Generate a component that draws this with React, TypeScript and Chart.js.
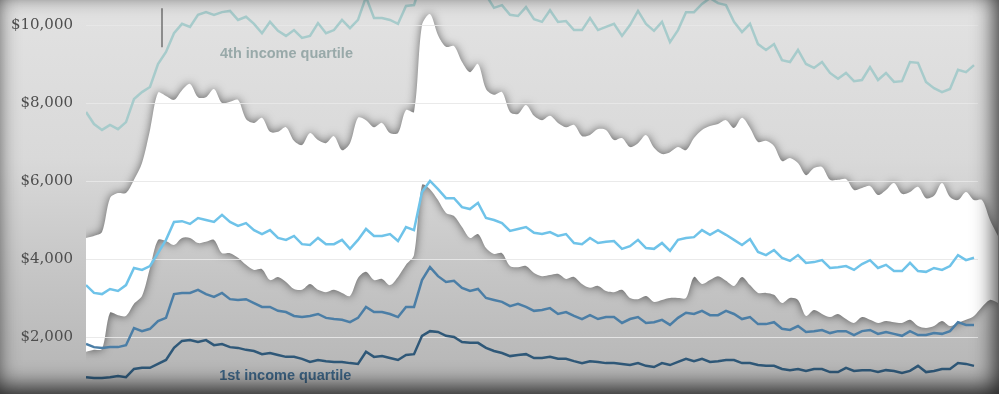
import React, { useEffect, useRef } from "react";
import { Chart, registerables } from "chart.js";

// Monthly observations (x = month index from the start of the series)
const firstQuartile = [
  970, 950, 950, 970, 1000, 970, 1180, 1210, 1210, 1310,
  1410, 1720, 1900, 1920, 1870, 1920, 1790, 1820, 1740, 1720,
  1670, 1640, 1560, 1590, 1540, 1490, 1490, 1440, 1360, 1410,
  1380, 1360, 1360, 1330, 1310, 1620, 1490, 1510, 1460, 1410,
  1540, 1560, 2030, 2150, 2130, 2030, 2000, 1870, 1850, 1850,
  1720, 1640, 1590, 1510, 1540, 1560, 1460, 1460, 1490, 1440,
  1440, 1380, 1330, 1380, 1360, 1330, 1330, 1310, 1280, 1330,
  1260, 1230, 1330, 1280, 1360, 1440, 1380, 1440, 1360, 1380,
  1410, 1410, 1330, 1330, 1280, 1260, 1260, 1180, 1150, 1180,
  1130, 1180, 1180, 1100, 1100, 1210, 1130, 1150, 1150, 1100,
  1150, 1130, 1080, 1130, 1260, 1100, 1130, 1180, 1180, 1330, 1310, 1260,
];

const secondQuartile = [
  1820, 1740, 1720, 1740, 1740, 1790, 2230, 2150, 2210, 2410,
  2490, 3100, 3130, 3130, 3210, 3100, 3030, 3130, 2970, 2950,
  2970, 2870, 2770, 2770, 2670, 2640, 2540, 2510, 2540, 2590,
  2490, 2460, 2440, 2380, 2490, 2770, 2640, 2640, 2590, 2510,
  2770, 2770, 3460, 3790, 3560, 3410, 3440, 3260, 3180, 3230,
  3000, 2950, 2900, 2790, 2850, 2770, 2670, 2690, 2740, 2590,
  2640, 2540, 2460, 2560, 2460, 2510, 2510, 2360, 2460, 2510,
  2360, 2380, 2440, 2310, 2490, 2620, 2590, 2670, 2560, 2560,
  2670, 2590, 2460, 2510, 2330, 2330, 2380, 2210, 2180, 2280,
  2130, 2150, 2180, 2100, 2150, 2150, 2050, 2150, 2180, 2080,
  2130, 2080, 2030, 2150, 2050, 2050, 2100, 2080, 2150, 2380, 2310, 2310,
];

const thirdQuartile = [
  3330, 3130, 3100, 3230, 3180, 3330, 3770, 3720, 3820, 4150,
  4490, 4950, 4970, 4900, 5050, 5000, 4950, 5130, 4950, 4850,
  4920, 4740, 4640, 4740, 4540, 4490, 4590, 4380, 4360, 4540,
  4380, 4380, 4490, 4260, 4490, 4770, 4590, 4590, 4640, 4460,
  4820, 4740, 5720, 6000, 5790, 5560, 5560, 5330, 5280, 5440,
  5050, 5000, 4920, 4720, 4770, 4820, 4670, 4640, 4690, 4590,
  4640, 4410, 4380, 4540, 4410, 4440, 4460, 4260, 4330, 4490,
  4280, 4260, 4410, 4210, 4490, 4540, 4560, 4740, 4620, 4740,
  4620, 4490, 4360, 4510, 4180, 4100, 4230, 4030, 3950, 4100,
  3900, 3920, 3970, 3770, 3790, 3820, 3720, 3870, 3970, 3770,
  3850, 3690, 3690, 3900, 3690, 3670, 3770, 3720, 3820, 4100, 3970, 4030,
];

const fourthQuartile = [
  7770, 7460, 7310, 7440, 7330, 7510, 8100, 8280, 8410, 9000,
  9310, 9790, 10030, 9950, 10260, 10330, 10260, 10330, 10360, 10130,
  10210, 10030, 9790, 10080, 9850, 9720, 9870, 9670, 9720, 10050,
  9790, 9870, 10130, 9920, 10130, 10720, 10180, 10180, 10130, 10030,
  10490, 10510, 11150, 11670, 11540, 11280, 11210, 11030, 11100, 10900,
  10770, 10440, 10510, 10260, 10230, 10460, 10150, 10080, 10380, 10080,
  10100, 9870, 9870, 10180, 9870, 9950, 10030, 9720, 10000, 10360,
  10030, 9850, 10080, 9560, 9870, 10330, 10330, 10540, 10690, 10560,
  10510, 10080, 9820, 10030, 9510, 9360, 9510, 9100, 9050, 9360,
  9000, 8900, 9050, 8770, 8620, 8770, 8560, 8590, 8920, 8590,
  8770, 8540, 8560, 9050, 9030, 8540, 8380, 8280, 8360, 8850, 8790, 8970,
];

// White band (upper and lower edge)
const bandUpper = [
  4540, 4590, 4690, 5560, 5690, 5690, 6030, 6460, 7310, 8260,
  8180, 8080, 8330, 8490, 8150, 8150, 8360, 8000, 8030, 8080,
  7590, 7490, 7620, 7260, 7260, 7380, 7030, 6920, 7230, 7050,
  6970, 7150, 6790, 6970, 7620, 7560, 7380, 7490, 7230, 7230,
  7820, 7770, 10000, 10280, 9740, 9440, 9460, 9050, 8790, 9000,
  8360, 8210, 8280, 7770, 7720, 7950, 7670, 7560, 7670, 7490,
  7380, 7440, 7150, 7180, 7330, 7310, 7050, 7100, 6870, 6970,
  7180, 6850, 6690, 6740, 6870, 6790, 7100, 7310, 7410, 7460,
  7560, 7360, 7620, 7360, 7000, 7030, 6900, 6510, 6590, 6460,
  6150, 6330, 6360, 6030, 6030, 6050, 5770, 5820, 5870, 5640,
  5770, 5950, 5670, 5720, 5850, 5560, 5620, 5950, 5590, 5510,
  5720, 5510, 5510, 5000, 4590,
];

const bandLower = [
  1620, 1670, 1690, 2620, 2560, 2540, 2850, 3050, 3770, 4490,
  4460, 4360, 4540, 4540, 4410, 4440, 4490, 4150, 4150, 4030,
  3850, 3720, 3740, 3460, 3540, 3410, 3230, 3210, 3360, 3210,
  3150, 3210, 3130, 3050, 3510, 3670, 3460, 3490, 3330, 3540,
  3850, 4100, 5900, 5790, 5510, 5180, 5100, 4820, 4540, 4640,
  4280, 4130, 4150, 3820, 3790, 3820, 3640, 3560, 3590, 3620,
  3490, 3540, 3360, 3260, 3310, 3180, 3150, 3210, 3000, 2970,
  3050, 2900, 2950, 3000, 3000, 3000, 3540, 3360, 3460, 3560,
  3440, 3310, 3540, 3330, 3130, 3130, 3080, 2870, 3000, 2950,
  2540, 2690, 2590, 2510, 2590, 2460, 2360, 2510, 2440, 2360,
  2410, 2380, 2360, 2440, 2280, 2230, 2280, 2410, 2280, 2360,
  2440, 2540, 2770, 2950, 2870,
];

const yTickValues = [2000, 4000, 6000, 8000, 10000];
const seriesLabels = ["1st income quartile", "4th income quartile"];

const BAND_UPPER_INDEX = 5;

function drawGrid(chart: any) {
  const { ctx } = chart;
  const xs = chart.scales.x;
  const ys = chart.scales.y;
  const left = chart.chartArea.left;
  const right = xs.getPixelForValue(fourthQuartile.length - 0.5);
  ctx.save();
  ctx.strokeStyle = "rgba(232,232,232,0.9)";
  ctx.lineWidth = 1;
  for (const v of yTickValues) {
    const y = Math.round(ys.getPixelForValue(v)) + 0.5;
    ctx.beginPath();
    ctx.moveTo(left, y);
    ctx.lineTo(right, y);
    ctx.stroke();
  }
  ctx.restore();
}

const bandShadow = {
  id: "bandShadow",
  beforeDatasetDraw(chart: any, args: any) {
    if (args.index !== BAND_UPPER_INDEX) return;
    const ctx = chart.ctx;
    ctx.save();
    ctx.shadowColor = "rgba(0,0,0,0.55)";
    ctx.shadowBlur = 10;
  },
  afterDatasetDraw(chart: any, args: any) {
    if (args.index !== BAND_UPPER_INDEX) return;
    chart.ctx.restore();
    drawGrid(chart);
  },
};

Chart.register(bandShadow as any);
Chart.register(...registerables);

const toPoints = (arr: number[]) => arr.map((v, i) => ({ x: i, y: v }));

export default function App() {
  const ref = useRef<HTMLCanvasElement | null>(null);

  useEffect(() => {
    const canvas = ref.current;
    if (!canvas) return;

    const background = {
      id: "background",
      beforeDraw(chart: any) {
        const { ctx, width, height } = chart;
        ctx.save();
        const g = ctx.createLinearGradient(0, 0, 0, height);
        g.addColorStop(0, "#e2e2e2");
        g.addColorStop(0.4, "#d9d9d9");
        g.addColorStop(0.7, "#c5c5c5");
        g.addColorStop(1, "#b4b4b4");
        ctx.fillStyle = g;
        ctx.fillRect(0, 0, width, height);
        ctx.restore();
      },
    };

    const annotations = {
      id: "annotations",
      afterDatasetsDraw(chart: any) {
        const { ctx } = chart;
        const xs = chart.scales.x;
        const ys = chart.scales.y;
        ctx.save();
        ctx.strokeStyle = "#707070";
        ctx.lineWidth = 1.5;
        ctx.beginPath();
        ctx.moveTo(xs.getPixelForValue(9.5), ys.getPixelForValue(10430));
        ctx.lineTo(xs.getPixelForValue(9.5), ys.getPixelForValue(9430));
        ctx.stroke();
        ctx.font = "bold 14.5px 'Liberation Sans'";
        ctx.textBaseline = "middle";
        ctx.textAlign = "left";
        ctx.fillStyle = "#98a9a9";
        ctx.fillText(seriesLabels[1], xs.getPixelForValue(16.75), ys.getPixelForValue(9250));
        ctx.fillStyle = "#3d6383";
        ctx.fillText(seriesLabels[0], xs.getPixelForValue(16.65), ys.getPixelForValue(1000));
        ctx.restore();
      },
    };

    const vignette = {
      id: "vignette",
      afterDraw(chart: any) {
        const { ctx, width, height } = chart;
        ctx.save();
        ctx.beginPath();
        ctx.rect(-200, -200, width + 400, height + 400);
        ctx.rect(0, 0, width, height);
        ctx.shadowColor = "rgba(0,0,0,0.8)";
        ctx.shadowBlur = 22;
        ctx.shadowOffsetX = -4;
        ctx.shadowOffsetY = -7;
        ctx.fillStyle = "#000";
        ctx.fill("evenodd");
        ctx.restore();
      },
    };

    const lineDs = (label: string, data: number[], color: string) => ({
      label,
      data: toPoints(data),
      borderColor: color,
      backgroundColor: color,
      borderWidth: 2.5,
      pointRadius: 0,
      tension: 0,
      fill: false,
    });

    const chart = new Chart(canvas, {
      type: "line",
      data: {
        datasets: [
          lineDs("1st income quartile", firstQuartile, "#2f5878"),
          lineDs("2nd income quartile", secondQuartile, "#4b7ea6"),
          lineDs("3rd income quartile", thirdQuartile, "#6fc3e9"),
          lineDs("4th income quartile", fourthQuartile, "#a7cbcb"),
          {
            label: "band lower",
            data: toPoints(bandLower),
            borderColor: "rgba(0,0,0,0)",
            backgroundColor: "rgba(0,0,0,0)",
            borderWidth: 0,
            pointRadius: 0,
            tension: 0.3,
            fill: false,
          },
          {
            label: "band upper",
            data: toPoints(bandUpper),
            borderColor: "rgba(0,0,0,0)",
            backgroundColor: "#ffffff",
            borderWidth: 0,
            pointRadius: 0,
            tension: 0.3,
            fill: "-1",
          },
        ],
      },
      options: {
        animation: false,
        responsive: false,
        maintainAspectRatio: false,
        layout: { padding: 0 },
        plugins: {
          legend: { display: false },
          tooltip: { enabled: false },
          title: { display: false },
        },
        scales: {
          x: {
            type: "linear",
            display: false,
            min: 0,
            max: (999 - 86) / 8,
          },
          y: {
            type: "linear",
            position: "left",
            min: 538,
            max: 10641,
            grid: { display: false, drawTicks: false, tickLength: 0 },
            border: { display: false },
            ticks: {
              autoSkip: false,
              padding: 13,
              color: "#4e4e4e",
              font: { family: "DejaVu Serif", size: 15 },
              callback: (v: any) => "$" + Number(v).toLocaleString("en-US"),
            },
            afterBuildTicks: (scale: any) => {
              scale.ticks = yTickValues.map((v) => ({ value: v }));
            },
            afterFit: (scale: any) => {
              scale.width = 86;
              scale.paddingTop = 0;
              scale.paddingBottom = 0;
            },
          },
        },
      },
      plugins: [background, annotations, vignette],
    } as any);

    return () => chart.destroy();
  }, []);

  return (
    <div style={{ position: "absolute", left: 0, top: 0, width: 999, height: 394 }}>
      <canvas ref={ref} width={999} height={394} style={{ display: "block", width: 999, height: 394 }} />
    </div>
  );
}
